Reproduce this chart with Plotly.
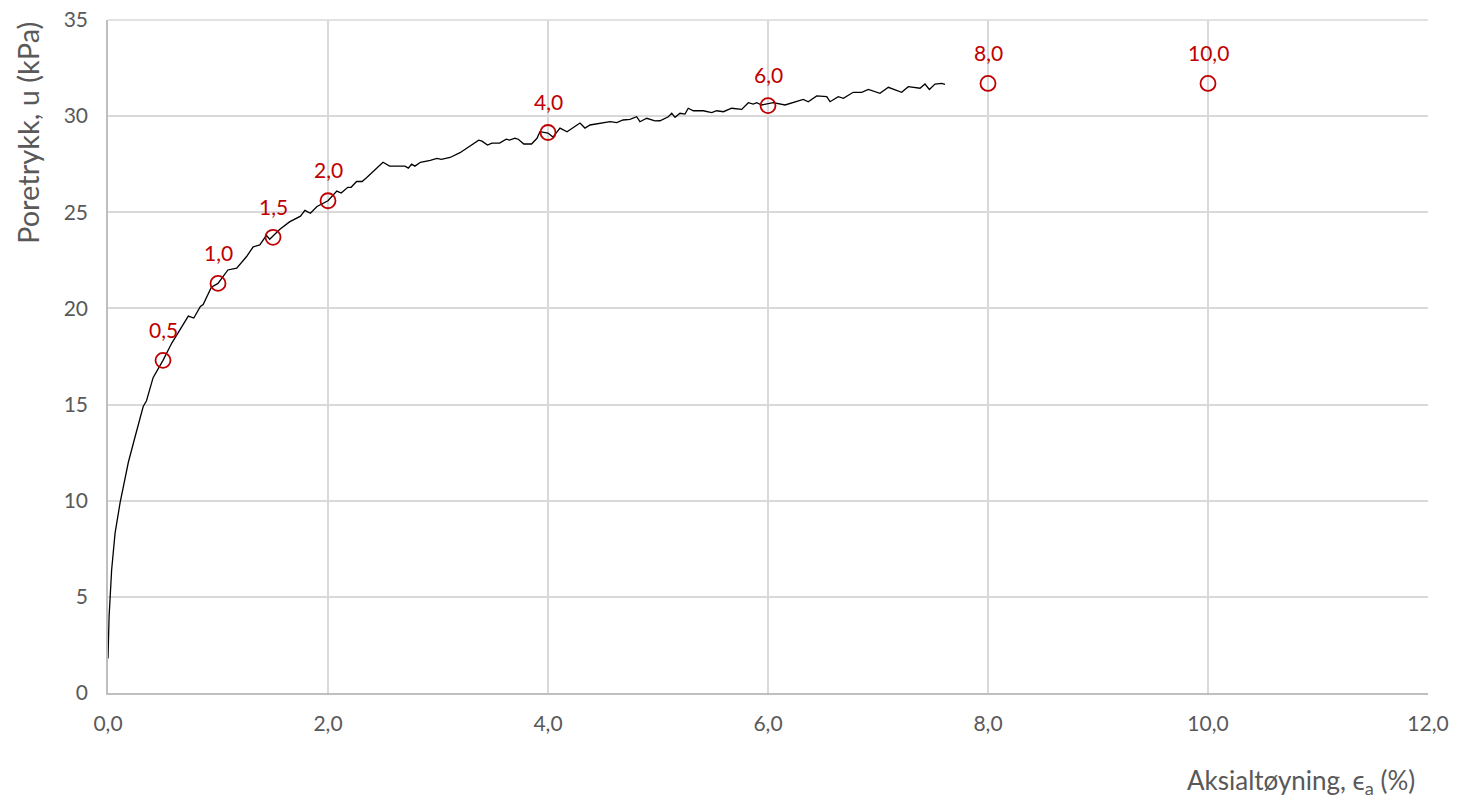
import plotly.graph_objects as go

# Measured curve: axial strain (%) vs pore pressure (kPa)
strain = [0.0, 0.01, 0.033, 0.064, 0.11, 0.185, 0.245, 0.32, 0.35, 0.41, 0.5, 0.58, 0.73, 0.78, 0.84,
          0.865, 0.94, 1.0, 1.09, 1.17, 1.26, 1.29, 1.32, 1.38, 1.44, 1.47, 1.56, 1.65, 1.75, 1.79,
          1.84, 1.90, 2.0, 2.08, 2.12, 2.18, 2.21, 2.26, 2.31, 2.35, 2.43, 2.50, 2.56, 2.62, 2.70,
          2.73, 2.76, 2.79, 2.84, 2.93, 2.99, 3.03, 3.11, 3.2, 3.29, 3.37, 3.40, 3.45, 3.49, 3.56,
          3.62, 3.65, 3.70, 3.73, 3.78, 3.85, 3.90, 3.927, 4.0, 4.045, 4.109, 4.173, 4.291, 4.336,
          4.382, 4.473, 4.564, 4.625, 4.682, 4.745, 4.806, 4.836, 4.897, 4.973, 5.018, 5.094, 5.125,
          5.155, 5.2, 5.245, 5.275, 5.321, 5.412, 5.488, 5.534, 5.594, 5.670, 5.761, 5.821, 5.866,
          5.897, 5.943, 6.003, 6.048, 6.155, 6.230, 6.321, 6.366, 6.443, 6.534, 6.564, 6.639, 6.685,
          6.775, 6.852, 6.912, 7.018, 7.094, 7.215, 7.275, 7.382, 7.427, 7.467, 7.518, 7.579, 7.609]
pore = [1.8, 4.0, 6.4, 8.3, 9.9, 12.0, 13.3, 14.9, 15.2, 16.4, 17.3, 18.2, 19.6, 19.5, 20.1,
        20.2, 21.1, 21.3, 22.0, 22.1, 22.7, 22.95, 23.2, 23.3, 23.8, 23.6, 24.1, 24.5, 24.8, 25.1,
        24.95, 25.3, 25.6, 26.1, 26.0, 26.3, 26.3, 26.6, 26.6, 26.8, 27.2, 27.6, 27.4, 27.4, 27.4,
        27.3, 27.5, 27.4, 27.6, 27.7, 27.8, 27.75, 27.85, 28.1, 28.45, 28.75, 28.7, 28.5, 28.6, 28.6,
        28.8, 28.75, 28.85, 28.8, 28.55, 28.55, 28.85, 29.19, 29.12, 28.91, 29.38, 29.19, 29.64, 29.38,
        29.54, 29.64, 29.71, 29.66, 29.80, 29.83, 29.97, 29.71, 29.89, 29.75, 29.76, 29.97, 30.15,
        29.94, 30.15, 30.11, 30.41, 30.28, 30.28, 30.18, 30.28, 30.23, 30.41, 30.35, 30.70, 30.63,
        30.70, 30.58, 30.67, 30.70, 30.58, 30.70, 30.87, 30.75, 31.05, 31.01, 30.75, 31.01, 30.93,
        31.24, 31.24, 31.39, 31.19, 31.50, 31.24, 31.53, 31.45, 31.67, 31.39, 31.67, 31.70, 31.65]

# Marked strain levels
mark_strain = [0.5, 1.0, 1.5, 2.0, 4.0, 6.0, 8.0, 10.0]
mark_pore = [17.3, 21.3, 23.7, 25.6, 29.15, 30.55, 31.7, 31.7]

# Axis ticks
y_ticks = [0, 5, 10, 15, 20, 25, 30, 35]
x_ticks = [0, 2, 4, 6, 8, 10, 12]

FONT = "Lato, 'Open Sans', sans-serif"
GRID = "#D9D9D9"
TXT = "#595959"
RED = "#C00000"

fig = go.Figure()
fig.add_trace(go.Scatter(x=strain, y=pore, mode="lines",
                         line=dict(color="black", width=1.3), showlegend=False,
                         hoverinfo="skip"))
fig.add_trace(go.Scatter(x=mark_strain, y=mark_pore, mode="markers",
                         marker=dict(symbol="circle-open", size=15, color=RED,
                                     line=dict(color=RED, width=1.8)),
                         showlegend=False))

annotations = []
for xs, yp in zip(mark_strain, mark_pore):
    annotations.append(dict(x=xs, y=yp, xref="x", yref="y",
                            text=f"{xs:.1f}".replace(".", ","),
                            showarrow=False, yshift=31, xanchor="center", yanchor="middle",
                            font=dict(size=21, color=RED, family=FONT)))

annotations.append(dict(text="Poretrykk, u (kPa)", xref="paper", yref="paper",
                        x=0, y=1, xshift=-81, xanchor="center", yanchor="top",
                        textangle=-90, showarrow=False,
                        font=dict(size=29, color=TXT, family=FONT)))
annotations.append(dict(text="Aksialtøyning, ϵ<sub>a</sub> (%)", xref="paper", yref="paper",
                        x=1, y=0, xshift=-11, yshift=-88, xanchor="right", yanchor="middle",
                        showarrow=False, font=dict(size=26, color=TXT, family=FONT)))

fig.update_layout(
    width=1469, height=798,
    margin=dict(l=100, r=49, t=12, b=113, autoexpand=False),
    paper_bgcolor="white", plot_bgcolor="white",
    separators=", ",
    font=dict(family=FONT, color=TXT, size=21),
    xaxis=dict(range=[0, 12], tickmode="array", tickvals=x_ticks, tickformat=".1f",
               showgrid=True, gridcolor=GRID, gridwidth=1.5,
               showline=True, linecolor="#BFBFBF", linewidth=1.5,
               zeroline=False, ticks="", ticklabelstandoff=11,
               ticklabeloverflow="allow", automargin=False,
               tickfont=dict(size=21, color=TXT, family=FONT)),
    yaxis=dict(range=[0, 35], tickmode="array", tickvals=y_ticks,
               showgrid=True, gridcolor=GRID, gridwidth=1.5,
               showline=True, linecolor="#BFBFBF", linewidth=1.5,
               zeroline=False, ticks="", ticklabelstandoff=14,
               ticklabeloverflow="allow", automargin=False,
               tickfont=dict(size=21, color=TXT, family=FONT)),
    annotations=annotations,
    shapes=[dict(type="line", xref="paper", yref="paper", x0=0, x1=1, y0=1, y1=1,
                 line=dict(color=GRID, width=1.5), layer="below")],
)

fig.write_html("out.html")
